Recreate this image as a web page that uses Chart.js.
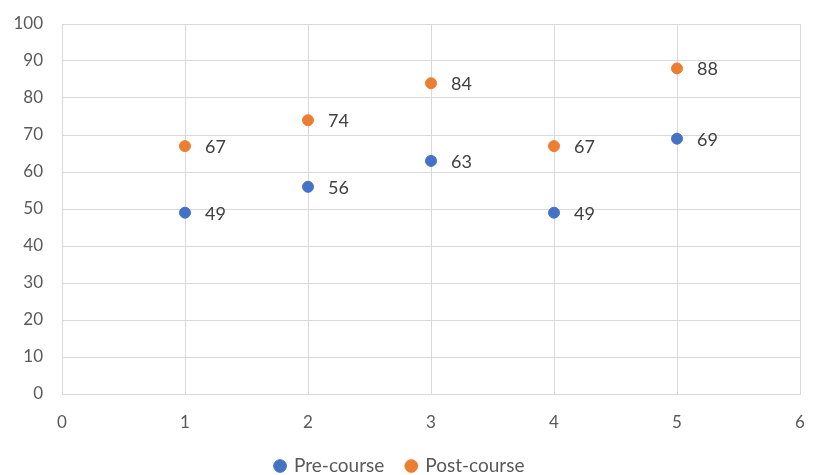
<!DOCTYPE html>
<html lang="en">
<head>
    <meta charset="UTF-8">
    <title>Pre-course vs Post-course</title>
    <script src="https://cdn.jsdelivr.net/npm/chart.js"></script>
    <style>
        html, body { margin: 0; padding: 0; background: #fff; }
        #wrap { width: 818px; height: 475px; }
    </style>
</head>
<body>
    <div id="wrap">
        <canvas id="scatterChart"></canvas>
    </div>

    <script>
        // data
        const xValues = [1, 2, 3, 4, 5];
        const preCourse = [49, 56, 63, 49, 69];
        const postCourse = [67, 74, 84, 67, 88];

        const toPoints = (ys) => xValues.map((x, i) => ({ x: x, y: ys[i] }));

        const FONT = 'Lato, "Open Sans", sans-serif';

        // value labels to the right of each point
        const pointLabels = {
            id: 'pointLabels',
            afterDatasetsDraw(chart) {
                const ctx = chart.ctx;
                ctx.save();
                ctx.font = '18px ' + FONT;
                ctx.fillStyle = '#404040';
                ctx.textAlign = 'left';
                ctx.textBaseline = 'middle';
                chart.data.datasets.forEach((ds, i) => {
                    chart.getDatasetMeta(i).data.forEach((pt, j) => {
                        ctx.fillText(String(ds.data[j].y), pt.x + 20, pt.y + 1);
                    });
                });
                ctx.restore();
            }
        };

        // keep tick-label overflow from pushing the plot area around
        const noScalePadding = (scale) => {
            scale.paddingTop = 0;
            scale.paddingBottom = 0;
            scale.paddingLeft = 0;
            scale.paddingRight = 0;
        };

        const ctx = document.getElementById('scatterChart').getContext('2d');
        new Chart(ctx, {
            type: 'scatter',
            data: {
                datasets: [
                    {
                        label: 'Pre-course',
                        data: toPoints(preCourse),
                        backgroundColor: '#4472C4',
                        borderColor: '#4472C4',
                        pointRadius: 5.5,
                        pointHoverRadius: 5.5
                    },
                    {
                        label: 'Post-course',
                        data: toPoints(postCourse),
                        backgroundColor: '#ED7D31',
                        borderColor: '#ED7D31',
                        pointRadius: 5.5,
                        pointHoverRadius: 5.5
                    }
                ]
            },
            options: {
                responsive: true,
                maintainAspectRatio: false,
                animation: false,
                layout: {
                    autoPadding: false,
                    // legend box is taller than its text, so pull it down a bit
                    padding: { left: 0, right: 18, top: 24, bottom: -10.5 }
                },
                plugins: {
                    tooltip: { enabled: false },
                    legend: {
                        position: 'bottom',
                        labels: {
                            usePointStyle: true,
                            pointStyle: 'circle',
                            boxWidth: 9,
                            boxHeight: 9,
                            padding: 22.5,
                            color: '#595959',
                            font: { family: FONT, size: 19 }
                        }
                    }
                },
                scales: {
                    x: {
                        type: 'linear',
                        min: 0,
                        max: 6,
                        ticks: {
                            stepSize: 1,
                            padding: 18,
                            color: '#595959',
                            font: { family: FONT, size: 17 }
                        },
                        grid: { color: '#D9D9D9', drawTicks: false },
                        border: { color: '#D9D9D9' },
                        afterFit(scale) {
                            scale.height = 40;
                            noScalePadding(scale);
                        }
                    },
                    y: {
                        min: 0,
                        max: 100,
                        ticks: {
                            stepSize: 10,
                            padding: 19,
                            color: '#595959',
                            font: { family: FONT, size: 17 }
                        },
                        grid: { color: '#D9D9D9', drawTicks: false },
                        border: { color: '#D9D9D9' },
                        afterFit(scale) {
                            scale.width = 62;
                            noScalePadding(scale);
                        }
                    }
                }
            },
            plugins: [pointLabels]
        });
    </script>
</body>
</html>
